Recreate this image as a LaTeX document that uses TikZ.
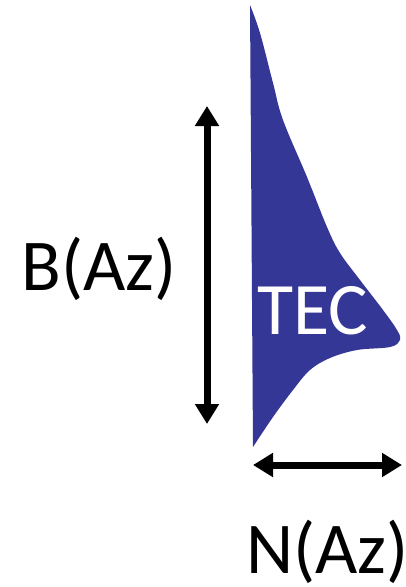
\documentclass[tikz,border=0pt]{standalone}
\usepackage{fontspec}
\setmainfont{Carlito}
\usetikzlibrary{arrows.meta}
\definecolor{tecblue}{HTML}{353797}
\tikzset{
  dimarrow/.style={line width=7pt, {Triangle[width=23pt,length=20pt]}-{Triangle[width=23pt,length=20pt]}},
  biglabel/.style={font=\fontsize{73}{80}\selectfont, inner sep=0pt, anchor=base},
}
\begin{document}
\begin{tikzpicture}[x=1pt,y=-1pt]
\useasboundingbox (0,0) rectangle (405,587);
\fill[tecblue] (250,5) plot[smooth, tension=0.6] coordinates {(250,5) (260,33) (273,83) (283,120) (307,177) (327,227) (340,253) (360,280) (383,310) (397,330) (400,340) (390,347) (357,350) (330,358) (310,370) (293,390) (273,417) (253,447)} -- (250,5) -- cycle;
\node[biglabel, text=white, font=\fontsize{74}{80}\selectfont] (tec) at (313,334) {TEC};
\coordinate (vt) at (207,106);
\coordinate (vb) at (207,424);
\coordinate (hl) at (253,465);
\coordinate (hr) at (402,465);
\draw[dimarrow] (vt) -- (vb);
\draw[dimarrow] (hl) -- (hr);
\node[biglabel] (b) at (99,290) {B(Az)};
\node[biglabel, anchor=base west] (n) at (246,573) {N(Az)};
\end{tikzpicture}
\end{document}
